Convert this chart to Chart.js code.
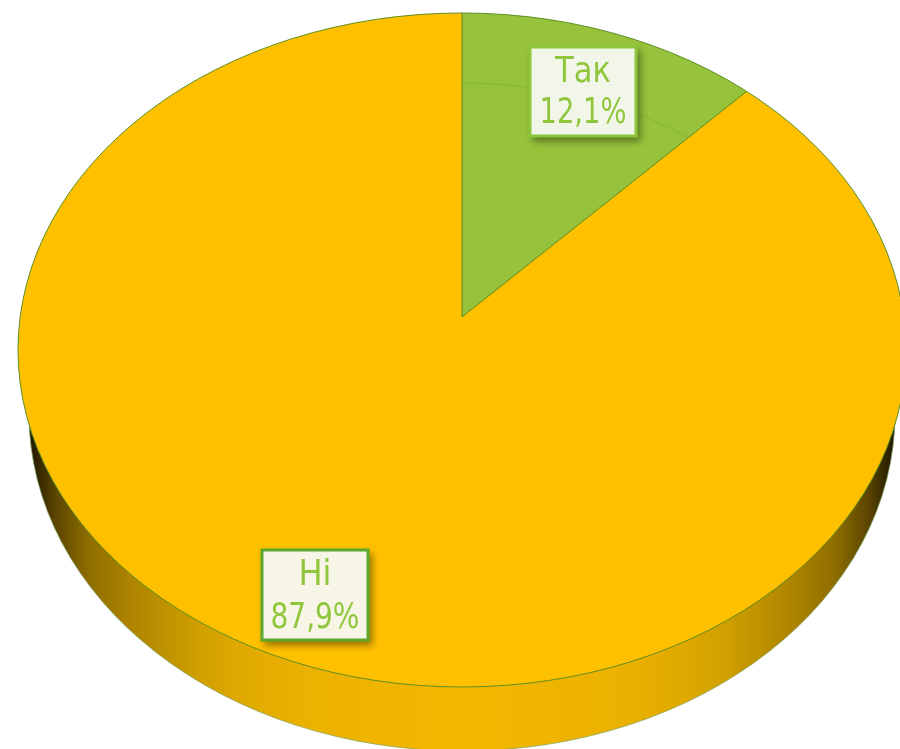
<!DOCTYPE html>
<html><head><meta charset="utf-8">
<style>html,body{margin:0;padding:0;background:#fff}canvas{display:block}</style>
<script src="https://cdn.jsdelivr.net/npm/chart.js@4"></script></head>
<body><canvas id="c" width="900" height="749" style="width:900px;height:749px"></canvas>
<script>
const categories = ['Так', 'Ні'];
const shares = [12.1, 87.9];
const sliceColors = ['#96C33B', '#FFC000'];

const TILT = 0.7535;
const face = {dy: 33, rx: 444, ry: 337};
const base = {dy: 97, rx: 433, ry: 337};
const bevel = {dy: 33, rx: 374, ry: 267};
const boxes = [
  {x: 530, y: 47, w: 106, h: 89, fill: '#F2F6E9', stroke: '#8DC63A', lw: 3, y1: 73, y2: 114, tw: 87},
  {x: 262, y: 550, w: 106, h: 90, fill: '#F6F5E6', stroke: '#5CA82C', lw: 3, y1: 576, y2: 619, tw: 89}
];
const headWidths = [56, 33];
const textColor = '#8FC63B';
const edge = '#5E8F22';

const tilted = {
  id: 'tilted',
  beforeDatasetsDraw(chart) {
    const {ctx} = chart;
    const arc = chart.getDatasetMeta(0).data[0];
    const cx = arc.x, cy = arc.y;
    // side wall
    const g = ctx.createLinearGradient(cx - base.rx, 0, cx + base.rx, 0);
    [[0, '#1e1600'], [0.03, '#5a4400'], [0.07, '#8f6e00'], [0.117, '#ad8400'], [0.197, '#d0a000'],
     [0.244, '#dfa900'], [0.313, '#ebb100'], [0.5, '#F4B800'], [0.687, '#ebb100'], [0.756, '#dfa900'],
     [0.803, '#d0a000'], [0.883, '#ad8400'], [0.93, '#8f6e00'], [0.97, '#5a4400'], [1, '#1e1600']]
      .forEach(([p, col]) => g.addColorStop(p, col));
    ctx.save();
    ctx.beginPath();
    ctx.ellipse(cx, cy + base.dy, base.rx, base.ry, 0, 0, Math.PI * 2);
    ctx.fillStyle = g;
    ctx.fill();
    ctx.lineWidth = 0.7;
    ctx.strokeStyle = '#7fa060';
    ctx.stroke();
    ctx.restore();
    // top face: slices are clipped to it and tilted about their apex
    ctx.save();
    ctx.beginPath();
    ctx.ellipse(cx, cy + face.dy, face.rx, face.ry, 0, 0, Math.PI * 2);
    ctx.clip();
    ctx.translate(cx, cy);
    ctx.scale(1, TILT);
    ctx.translate(-cx, -cy);
  },
  afterDatasetsDraw(chart) {
    const {ctx} = chart;
    const arc = chart.getDatasetMeta(0).data[0];
    const cx = arc.x, cy = arc.y;
    // faint bevel line, limited to the first slice
    ctx.save();
    ctx.beginPath();
    ctx.moveTo(cx, cy);
    ctx.arc(cx, cy, arc.outerRadius, arc.startAngle, arc.endAngle);
    ctx.closePath();
    ctx.clip();
    ctx.setTransform(1, 0, 0, 1, 0, 0);
    ctx.beginPath();
    ctx.ellipse(cx, cy + bevel.dy, bevel.rx, bevel.ry, 0, 0, Math.PI * 2);
    ctx.lineWidth = 1;
    ctx.strokeStyle = 'rgba(120,170,45,0.5)';
    ctx.stroke();
    ctx.restore();
    ctx.restore();
    ctx.save();
    ctx.beginPath();
    ctx.ellipse(cx, cy + face.dy, face.rx, face.ry, 0, 0, Math.PI * 2);
    ctx.lineWidth = 1;
    ctx.strokeStyle = edge;
    ctx.stroke();
    ctx.restore();
  },
  afterDraw(chart) {
    const {ctx} = chart;
    ctx.save();
    boxes.forEach((b, i) => {
      ctx.save();
      ctx.shadowColor = 'rgba(0,0,0,0.4)';
      ctx.shadowBlur = 7;
      ctx.shadowOffsetX = 3;
      ctx.shadowOffsetY = 4;
      ctx.fillStyle = b.stroke;
      ctx.fillRect(b.x - b.lw / 2, b.y - b.lw / 2, b.w + b.lw, b.h + b.lw);
      ctx.restore();
      ctx.fillStyle = b.fill;
      ctx.fillRect(b.x + b.lw / 2, b.y + b.lw / 2, b.w - b.lw, b.h - b.lw);
      ctx.fillStyle = textColor;
      ctx.font = '36px "DejaVu Sans Condensed", "DejaVu Sans", sans-serif';
      ctx.textAlign = 'center';
      ctx.textBaseline = 'middle';
      const mid = b.x + b.w / 2;
      ctx.fillText(categories[i], mid, b.y1, headWidths[i]);
      ctx.fillText(shares[i].toFixed(1).replace('.', ',') + '%', mid, b.y2, b.tw);
    });
    ctx.restore();
  }
};

new Chart(document.getElementById('c'), {
  type: 'pie',
  data: {
    labels: categories,
    datasets: [{
      data: shares,
      backgroundColor: sliceColors,
      borderColor: edge,
      borderWidth: 1,
      clip: false
    }]
  },
  options: {
    responsive: false,
    devicePixelRatio: 1,
    animation: false,
    radius: 900,
    layout: {padding: {left: 24, top: 0, right: 0, bottom: 115}},
    plugins: {legend: {display: false}, tooltip: {enabled: false}, title: {display: false}}
  },
  plugins: [tilted]
});
</script></body></html>
